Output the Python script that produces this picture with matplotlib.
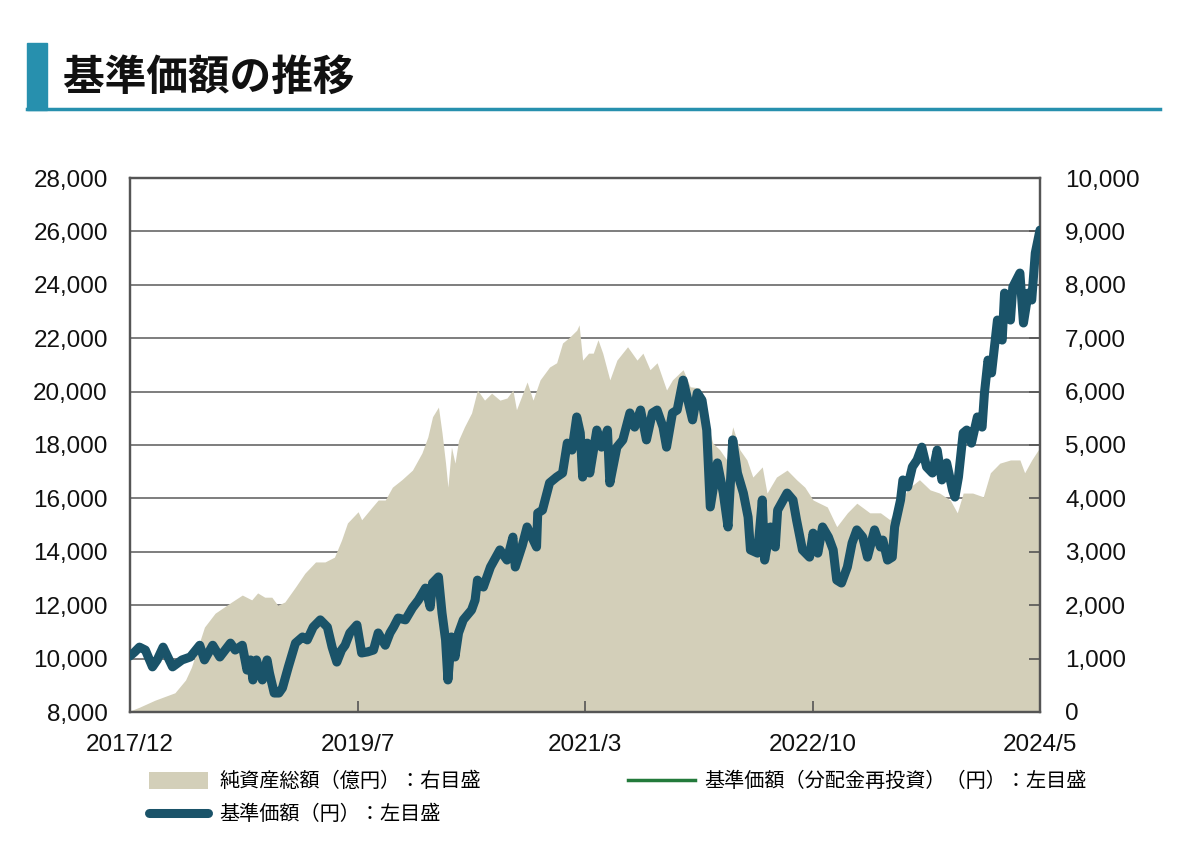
import matplotlib

matplotlib.use("Agg")
import matplotlib.pyplot as plt
from matplotlib.lines import Line2D
from matplotlib.patches import Patch, Rectangle

plt.rcParams["font.family"] = ["Liberation Sans", "Noto Sans CJK JP", "DejaVu Sans"]

AREA = "#d3cfb9"
NAV_C = "#1a5369"
REINV_C = "#237a3b"
TEAL = "#2790ae"
GRID = "#5a5a5a"
SPINE = "#555555"

# months elapsed since 2017/12
nav_months = [0, 0.4, 0.8, 1.3, 1.9, 2.3, 2.8, 3.2, 3.6, 4.4, 5.1, 5.9, 6.3, 7.0, 7.6, 8.5, 8.9, 9.5,
              9.9, 10.2, 10.4, 10.7, 11.2, 11.6, 11.8, 12.2, 12.6, 12.9, 13.4, 14.0, 14.6, 15.0, 15.5,
              16.1, 16.7, 17.1, 17.5, 17.9, 18.2, 18.6, 19.2, 19.6, 20.1, 20.6, 21.0, 21.6, 22.0, 22.3,
              22.7, 23.3, 23.9, 24.4, 25.0, 25.4, 25.6, 26.1, 26.4, 26.7, 26.9, 27.2, 27.5, 27.8, 28.2,
              28.9, 29.2, 29.4, 29.9, 30.5, 31.3, 31.9, 32.4, 32.6, 33.2, 33.6, 34.4, 34.5, 34.9, 35.5,
              36.1, 36.6, 37.0, 37.4, 37.8, 38.1, 38.3, 38.7, 38.9, 39.5, 39.9, 40.4, 40.6, 41.2, 41.7,
              42.3, 42.7, 43.2, 43.7, 44.2, 44.6, 45.1, 45.4, 45.9, 46.3, 46.8, 47.2, 47.6, 48.0, 48.4,
              48.8, 49.1, 49.7, 50.2, 50.6, 51.0, 51.4, 51.9, 52.3, 52.5, 53.1, 53.5, 53.7, 54.2, 54.6,
              54.8, 55.6, 56.1, 56.4, 56.9, 57.5, 57.8, 58.2, 58.6, 59.1, 59.5, 59.8, 60.2, 60.7, 61.1,
              61.5, 62.0, 62.4, 63.0, 63.5, 63.7, 64.1, 64.5, 64.7, 65.2, 65.4, 65.8, 66.2, 66.6, 67.0,
              67.4, 67.9, 68.3, 68.7, 69.1, 69.6, 69.8, 70.1, 70.5, 70.8, 71.2, 71.7, 72.1, 72.3, 72.6,
              72.9, 73.4, 73.8, 74.0, 74.5, 74.7, 75.3, 75.6, 76.0, 76.3, 76.6, 77.0]
nav = [10100, 10250, 10430, 10320, 9690, 9950, 10430, 10060, 9690, 9950, 10060, 10500, 9950, 10500,
       10060, 10580, 10320, 10500, 9570, 9950, 9200, 9950, 9200, 9950, 9460, 8710, 8710, 8900, 9690,
       10580, 10810, 10700, 11180, 11450, 11180, 10430, 9870, 10320, 10500, 10960, 11260, 10210, 10250,
       10320, 10960, 10500, 10960, 11180, 11520, 11450, 11900, 12190, 12640, 11930, 12830, 13060, 11710,
       10700, 9200, 10810, 10060, 10960, 11450, 11820, 12190, 12940, 12680, 13430, 14070, 13690, 14550,
       13430, 14250, 14930, 14180, 15450, 15560, 16580, 16800, 16950, 18070, 17810, 19050, 18450, 16800,
       18070, 16950, 18560, 17920, 18560, 16580, 17920, 18190, 19200, 18670, 19310, 18190, 19200, 19310,
       18670, 17920, 19200, 19310, 20430, 19680, 18940, 19950, 19680, 18560, 15680, 17330, 16200, 14930,
       18190, 16950, 16200, 15300, 14070, 13950, 15940, 13690, 14930, 14180, 15560, 16200, 15940, 15190,
       14070, 13800, 14700, 13950, 14930, 14550, 14070, 12940, 12830, 13430, 14330, 14820, 14550, 13800,
       14820, 14180, 14440, 13690, 13800, 14930, 15940, 16690, 16430, 17180, 17440, 17920, 17180, 16950,
       17810, 16690, 17330, 16310, 16050, 16800, 18450, 18560, 18070, 19050, 18670, 19950, 21180, 20700,
       22680, 21930, 23690, 22680, 23920, 24440, 22570, 23690, 23430, 25190, 26050]
# no distributions paid, so the reinvested series is the same as the NAV
nav_reinvested = list(nav)

aum_months = [0, 0.8, 2.1, 3.8, 4.7, 5.2, 5.8, 6.3, 7.2, 8.0, 8.6, 9.5, 10.3, 10.8, 11.4, 12.0, 12.5,
              13.1, 14.0, 14.8, 15.7, 16.5, 17.3, 17.9, 18.4, 19.3, 19.6, 20.5, 21.0, 21.6, 22.2, 23.0,
              23.9, 24.7, 25.2, 25.6, 26.1, 26.4, 26.7, 26.9, 27.2, 27.5, 27.8, 28.3, 28.9, 29.4, 30.0,
              30.6, 31.3, 31.9, 32.4, 32.7, 33.6, 34.1, 34.7, 35.5, 36.1, 36.6, 37.2, 37.8, 38.0, 38.3,
              38.8, 39.2, 39.6, 40.0, 40.6, 41.2, 42.1, 42.9, 43.4, 44.0, 44.6, 45.4, 45.9, 46.8, 47.4,
              48.2, 48.8, 49.3, 49.9, 50.5, 51.0, 51.6, 52.2, 52.7, 53.5, 53.9, 54.7, 55.6, 56.4, 57.1,
              57.8, 59.0, 59.8, 60.7, 61.5, 62.6, 63.5, 64.3, 65.2, 66.0, 66.8, 67.7, 68.5, 69.4, 70.0,
              70.5, 71.3, 72.2, 72.8, 73.6, 74.5, 75.3, 75.7, 76.3, 77.0]
aum = [20, 90, 220, 360, 600, 840, 1250, 1590, 1850, 1970, 2060, 2190, 2100, 2230, 2150, 2150, 2000,
       2060, 2340, 2600, 2810, 2810, 2900, 3220, 3540, 3750, 3600, 3840, 3970, 3970, 4210, 4350, 4530,
       4850, 5150, 5530, 5710, 5230, 4660, 4210, 4960, 4660, 5090, 5340, 5600, 6030, 5840, 5970, 5840,
       5880, 6030, 5660, 6180, 5840, 6220, 6460, 6540, 6910, 7020, 7150, 7250, 6590, 6720, 6720, 6970,
       6720, 6220, 6590, 6840, 6590, 6720, 6410, 6540, 6030, 6220, 6410, 6090, 6070, 5470, 5040, 4910,
       4720, 5340, 4910, 4720, 4400, 4590, 4100, 4400, 4530, 4350, 4210, 3970, 3840, 3470, 3730, 3910,
       3730, 3730, 3600, 3970, 4210, 4350, 4160, 4100, 3970, 3730, 4100, 4100, 4030, 4480, 4660, 4720,
       4720, 4480, 4720, 4960]

x_labels = ["2017/12", "2019/7", "2021/3", "2022/10", "2024/5"]
left_ticks = list(range(8000, 28001, 2000))
right_ticks = list(range(0, 10001, 1000))

fig = plt.figure(figsize=(11.86, 8.56), dpi=100, facecolor="white")

# title block
fig.patches.append(Rectangle((27 / 1186, 1 - 110 / 856), 20 / 1186, 67 / 856,
                             transform=fig.transFigure, color=TEAL, zorder=0))
fig.add_artist(Line2D([27 / 1186, 1160 / 1186], [1 - 108.5 / 856] * 2,
                      transform=fig.transFigure, color=TEAL, lw=2.5))
fig.text(63 / 1186, 1 - 78 / 856, "基準価額の推移", fontsize=30, fontweight="bold",
         family=["Noto Sans CJK JP"], va="center", ha="left", color="#111111")

ax = fig.add_axes([130 / 1186, 1 - 712 / 856, 910 / 1186, 534 / 856])
ax.fill_between(aum_months, aum, 0, color=AREA, lw=0, zorder=1)
for v in right_ticks[1:-1]:
    ax.axhline(v, color=GRID, lw=1.1, zorder=0.5)
ax.set_xlim(0, 77)
ax.set_ylim(0, 10000)
xticks = [77 * i / 4 for i in range(5)]
ax.set_xticks(xticks)
ax.set_xticklabels(x_labels)
ax.tick_params(axis="x", direction="in", length=8, width=1.2, color=SPINE, pad=16,
               labelsize=17.5, labelcolor="#111111")
for s in ax.spines.values():
    s.set_color(SPINE)
    s.set_linewidth(1.6)

ax2 = ax.twinx()
ax2.plot(nav_months, nav_reinvested, color=REINV_C, lw=2.5, zorder=2)
ax2.plot(nav_months, nav, color=NAV_C, lw=6.5, solid_capstyle="round",
         solid_joinstyle="round", zorder=3)
ax2.set_ylim(8000, 28000)
ax2.set_yticks(left_ticks)
ax2.set_yticklabels([f"{v:,}" for v in left_ticks])
ax2.tick_params(axis="y", labelleft=True, labelright=False, left=False, right=True,
                direction="in", length=8, width=1.2, color=SPINE, pad=16,
                labelsize=17.5, labelcolor="#111111")
for s in ax2.spines.values():
    s.set_color(SPINE)
    s.set_linewidth(1.6)

# right-hand scale (net assets); twinx moved these ticks to the left, put them back
ax.set_yticks(right_ticks)
ax.set_yticklabels([f"{v:,}" for v in right_ticks])
ax.tick_params(axis="y", left=False, right=False, labelleft=False, labelright=True,
               length=0, pad=18, labelsize=17.5, labelcolor="#111111")

h_area = Patch(facecolor=AREA, edgecolor="none")
h_nav = Line2D([], [], color=NAV_C, lw=6.5, solid_capstyle="round")
h_re = Line2D([], [], color=REINV_C, lw=2.5)
leg_font = {"family": ["Noto Sans CJK JP"], "size": 14.5}
fig.legend([h_area, h_nav], ["純資産総額（億円）：右目盛", "基準価額（円）：左目盛"],
           loc="upper left", bbox_to_anchor=(133 / 1186, 1 - 755 / 856), frameon=False,
           prop=leg_font, handlelength=2.9, handleheight=0.9, handletextpad=0.6,
           labelspacing=0.6, borderpad=0.3)
fig.legend([h_re], ["基準価額（分配金再投資）（円）：左目盛"],
           loc="upper left", bbox_to_anchor=(612 / 1186, 1 - 755 / 856), frameon=False,
           prop=leg_font, handlelength=3.3, handletextpad=0.5, borderpad=0.3)

fig.savefig("out.png", dpi=100, facecolor="white")
